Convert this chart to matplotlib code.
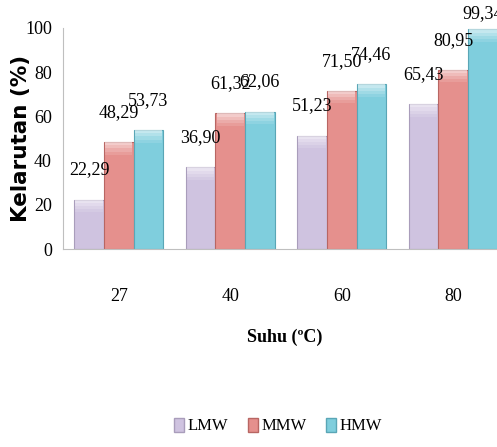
import numpy as np
import matplotlib
matplotlib.use('Agg')
import matplotlib.pyplot as plt
from matplotlib.patches import Patch

# solubility (%) of each fraction at each temperature
suhu = ['27', '40', '60', '80']
lmw = [22.29, 36.90, 51.23, 65.43]
mmw = [48.29, 61.32, 71.50, 80.95]
hmw = [53.73, 62.06, 74.46, 99.34]
series_names = ['LMW', 'MMW', 'HMW']

colors = ['#CFC3E0', '#E5908D', '#7FCEDD']
edges = ['#A99DBB', '#B86663', '#5AA6B6']

serif = 'Liberation Serif'
W, H = 497, 447

fig = plt.figure(figsize=(W / 100, H / 100), dpi=100)
ax = fig.add_axes([63 / W, 1 - 249 / H, 446 / W, 221 / H])

x = np.arange(len(suhu))
w = 0.266
for i, vals in enumerate([lmw, mmw, hmw]):
    pos = x + (i - 1) * w
    ax.bar(pos, vals, width=w, color=colors[i], edgecolor=edges[i],
           linewidth=0.8, zorder=2)
    # soft light bevel along the top of each bar
    for k, a in enumerate([0.55, 0.4, 0.25, 0.12]):
        ax.bar(pos, [1.4] * len(vals), bottom=np.array(vals) - 1.4 * (k + 1),
               width=w * 0.92, color='white', alpha=a, linewidth=0, zorder=3)
    for px, v in zip(pos, vals):
        ly = min(v + 13.5, 106.5)
        ax.text(px, ly, f'{v:.2f}'.replace('.', ','), ha='center', va='center',
                fontsize=13, family=serif, clip_on=False, zorder=4)

ax.set_xlim(-0.5, 3.5)
ax.set_ylim(0, 100)
ax.set_yticks(range(0, 101, 20))
ax.set_xticks(x)
ax.set_xticklabels(suhu)
for lab in ax.get_xticklabels() + ax.get_yticklabels():
    lab.set_family(serif)
    lab.set_fontsize(13)
ax.tick_params(axis='both', length=0)
ax.tick_params(axis='x', pad=28)
ax.tick_params(axis='y', pad=8)

for side in ['top', 'right']:
    ax.spines[side].set_visible(False)
ax.spines['left'].set_color('#BFBFBF')
ax.spines['bottom'].set_color('#BFBFBF')

fig.text(21 / W, 1 - 138 / H, 'Kelarutan (%)', rotation=90, ha='center',
         va='center', fontsize=15.5, fontweight='bold')
fig.text(285 / W, 1 - 337 / H, 'Suhu (ºC)', ha='center', va='center',
         fontsize=13, fontweight='bold', family=serif)

handles = [Patch(facecolor=colors[i], edgecolor=edges[i], label=series_names[i])
           for i in range(3)]
fig.legend(handles=handles, loc='center', bbox_to_anchor=(278 / W, 1 - 426 / H),
           ncol=3, frameon=False, handlelength=0.6, handleheight=0.9,
           handletextpad=0.2, columnspacing=1.2,
           prop={'family': serif, 'size': 12})

fig.savefig('out.png', dpi=100)
